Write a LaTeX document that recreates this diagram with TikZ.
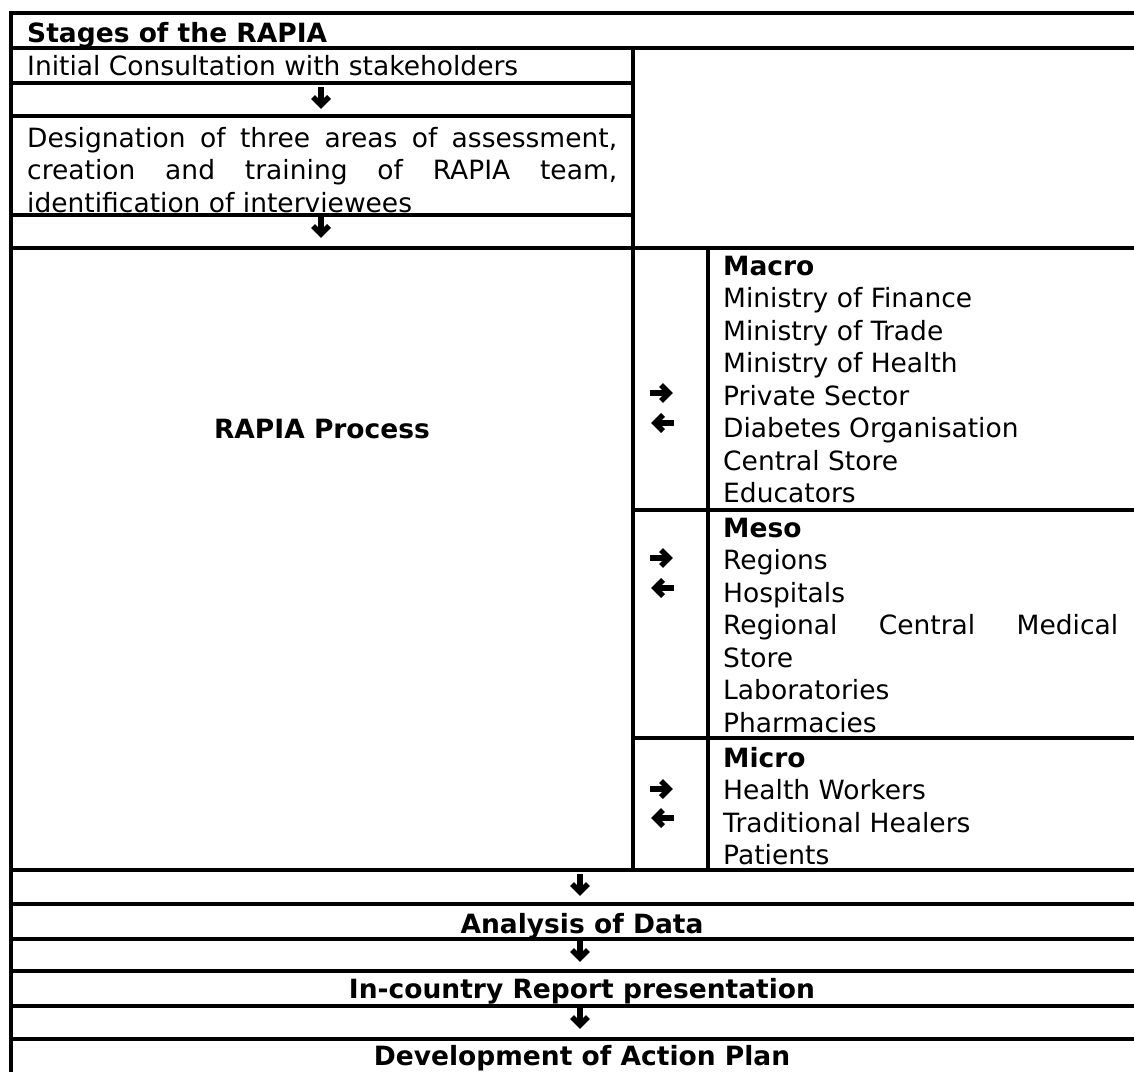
\documentclass[tikz,border=0pt]{standalone}
\usepackage{fontspec}
\setmainfont{DejaVu Sans}
\begin{document}
\begin{tikzpicture}[x=1pt,y=-1pt,
  rule/.style={line width=3.5pt,line cap=rect},
  txt/.style={inner sep=0pt,anchor=base west,font=\fontsize{26.5}{32.5}\selectfont},
  btxt/.style={inner sep=0pt,anchor=base west,font=\fontsize{26.5}{32.5}\selectfont\bfseries},
  ctxt/.style={inner sep=0pt,anchor=base,font=\fontsize{26.5}{32.5}\selectfont\bfseries},
  arrw/.style={line width=5.5pt,miter limit=10},
  darr/.pic={\draw[arrw] (0,-11)--(0,5);
             \draw[arrw] (-8,-1)--(0,7)--(8,-1);},
  rarr/.pic={\draw[arrw] (-12,0)--(5,0);
             \draw[arrw] (-1,-8)--(7,0)--(-1,8);},
  larr/.pic={\draw[arrw] (12,0)--(-5,0);
             \draw[arrw] (1,-8)--(-7,0)--(1,8);}
]
\useasboundingbox (0,0) rectangle (1134,1071);
\clip (0,0) rectangle (1134,1071);
\fill[white] (0,0) rectangle (1134,1071);

% horizontal rules
\foreach \yy in {13,48,248,870,904,939,971,1006,1039}
  \draw[rule] (11,\yy) -- (1150,\yy);
\foreach \yy in {83,116,215}
  \draw[rule] (11,\yy) -- (633,\yy);
\foreach \yy in {510,738}
  \draw[rule] (633,\yy) -- (1150,\yy);
% vertical rules
\draw[rule] (11,13) -- (11,1080);
\draw[rule] (633,48) -- (633,870);
\draw[rule] (708,248) -- (708,870);

% left column
\node[btxt] (head) at (27,42) {Stages of the RAPIA};
\node[txt] (init) at (27,75) {Initial Consultation with stakeholders};
\pic at (321,98) {darr};
\node[txt] (des1) at (27,147) {\makebox[590pt][s]{Designation of three areas of assessment,}};
\node[txt] (des2) at (27,179.5) {\makebox[590pt][s]{creation and training of RAPIA team,}};
\node[txt] (des3) at (27,212) {identification of interviewees};
\pic at (321,227) {darr};
\node[ctxt] (proc) at (322,438) {RAPIA Process};

% arrows column
\pic at (662,393) {rarr};
\pic at (662,423) {larr};
\pic at (662,558) {rarr};
\pic at (662,588) {larr};
\pic at (662,789) {rarr};
\pic at (662,818) {larr};

% Macro
\node[btxt] (macro) at (723,275) {Macro};
\foreach \t [count=\i] in {Ministry of Finance,Ministry of Trade,Ministry of Health,Private Sector,Diabetes Organisation,Central Store,Educators}
  \node[txt] (mac\i) at (723,275+32.5*\i) {\t};
% Meso
\node[btxt] (meso) at (723,537) {Meso};
\node[txt] (mes1) at (723,569.5) {Regions};
\node[txt] (mes2) at (723,602) {Hospitals};
\node[txt] (mes3) at (723,634.5) {\makebox[395pt][s]{Regional Central Medical}};
\node[txt] (mes4) at (723,667) {Store};
\node[txt] (mes5) at (723,699.5) {Laboratories};
\node[txt] (mes6) at (723,732) {Pharmacies};
% Micro
\node[btxt] (micro) at (723,767) {Micro};
\node[txt] (mic1) at (723,799.5) {Health Workers};
\node[txt] (mic2) at (723,832) {Traditional Healers};
\node[txt] (mic3) at (723,864.5) {Patients};

% bottom stages
\pic at (580,885) {darr};
\node[ctxt] (anal) at (582,933) {Analysis of Data};
\pic at (580,951) {darr};
\node[ctxt] (rep) at (582,998) {In-country Report presentation};
\pic at (580,1018) {darr};
\node[ctxt] (dev) at (582,1065) {Development of Action Plan};
\end{tikzpicture}
\end{document}
